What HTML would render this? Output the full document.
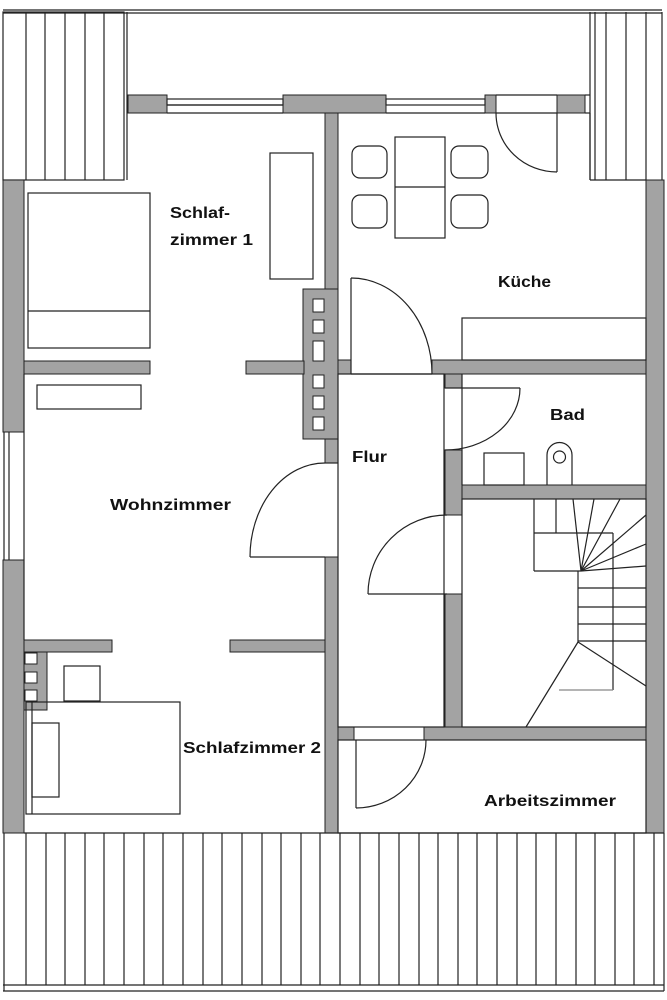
<!DOCTYPE html>
<html><head><meta charset="utf-8"><style>
html,body{margin:0;padding:0;background:#fff;}
svg{display:block;}
text{font-family:"Liberation Sans",sans-serif;font-weight:bold;font-size:16px;fill:#111;}
</style></head><body>
<svg width="667" height="1000" viewBox="0 0 667 1000" xmlns="http://www.w3.org/2000/svg">
<g fill="none" stroke="#222" stroke-width="1.2">
<!-- top outer line -->
<line x1="3" y1="10" x2="662" y2="10"/>
<line x1="3" y1="13" x2="662" y2="13"/>
<!-- left roof -->
<rect x="3" y="12" width="121" height="168"/>
<line x1="26" y1="12" x2="26" y2="180"/>
<line x1="45" y1="12" x2="45" y2="180"/>
<line x1="65" y1="12" x2="65" y2="180"/>
<line x1="85" y1="12" x2="85" y2="180"/>
<line x1="104" y1="12" x2="104" y2="180"/>
<line x1="127" y1="12" x2="127" y2="180"/>
<!-- right roof -->
<line x1="590" y1="12" x2="590" y2="180"/>
<line x1="595" y1="12" x2="595" y2="180"/>
<line x1="606" y1="12" x2="606" y2="180"/>
<line x1="626" y1="12" x2="626" y2="180"/>
<line x1="646" y1="12" x2="646" y2="180"/>
<line x1="590" y1="180" x2="646" y2="180"/>
<line x1="662" y1="12" x2="662" y2="180"/>
</g>
<!-- walls -->
<g fill="#a3a3a3" stroke="#222" stroke-width="1">
<rect x="128" y="95" width="39" height="18"/>
<rect x="283" y="95" width="103" height="18"/>
<rect x="485" y="95" width="11" height="18"/>
<rect x="557" y="95" width="28" height="18"/>
<rect x="3" y="180" width="21" height="252"/>
<rect x="3" y="560" width="21" height="273"/>
<rect x="646" y="180" width="18" height="653"/>
<!-- Schlaf1/Kueche vertical wall -->
<rect x="325" y="113" width="13" height="350"/>
<rect x="325" y="557" width="13" height="276"/>
<!-- chimney upper -->
<rect x="303" y="289" width="35" height="150"/>
<!-- Schlaf1/Wohn wall -->
<rect x="24" y="361" width="126" height="13"/>
<rect x="246" y="361" width="58" height="13"/>
<!-- Kueche bottom wall -->
<rect x="338" y="360" width="13" height="14"/>
<rect x="432" y="360" width="214" height="14"/>
<!-- Flur right wall -->
<rect x="445" y="374" width="17" height="14"/>
<rect x="445" y="450" width="17" height="65"/>
<rect x="445" y="594" width="17" height="146"/>
<!-- Bad/Stair wall -->
<rect x="462" y="485" width="184" height="14"/>
<!-- stair bottom / Arbeitszimmer top -->
<rect x="338" y="727" width="16" height="13"/>
<rect x="424" y="727" width="222" height="13"/>
<!-- Wohn/Schlaf2 wall -->
<rect x="24" y="640" width="88" height="12"/>
<rect x="230" y="640" width="95" height="12"/>
<!-- chimney lower -->
<rect x="24" y="652" width="23" height="58"/>
</g>
<g fill="#fff" stroke="#222" stroke-width="1">
<rect x="313" y="299" width="11" height="13"/>
<rect x="313" y="320" width="11" height="13"/>
<rect x="313" y="341" width="11" height="20"/>
<rect x="313" y="375" width="11" height="13"/>
<rect x="313" y="396" width="11" height="13"/>
<rect x="313" y="417" width="11" height="13"/>
<rect x="25" y="653" width="12" height="11"/>
<rect x="25" y="672" width="12" height="11"/>
<rect x="25" y="690" width="12" height="11"/>
</g>
<g fill="none" stroke="#222" stroke-width="1.2">
<!-- windows -->
<rect x="167" y="99" width="116" height="6"/>
<line x1="167" y1="105" x2="283" y2="105"/>
<line x1="167" y1="113" x2="283" y2="113"/>
<rect x="386" y="99" width="99" height="6"/>
<line x1="386" y1="113" x2="485" y2="113"/>
<line x1="496" y1="113" x2="557" y2="113"/>
<line x1="496" y1="95" x2="557" y2="95"/>
<line x1="585" y1="113" x2="590" y2="113"/>
<line x1="585" y1="95" x2="590" y2="95"/>
<line x1="590" y1="113" x2="590" y2="180"/>
<line x1="4" y1="432" x2="4" y2="560"/>
<line x1="9" y1="432" x2="9" y2="560"/>
<line x1="24" y1="374" x2="24" y2="640"/>
<!-- kitchen door top -->
<line x1="557" y1="113" x2="557" y2="172"/>
<path d="M496 113 A61 59 0 0 0 557 172"/>
<!-- kitchen furniture -->
<rect x="395" y="137" width="50" height="101"/>
<line x1="395" y1="187" x2="445" y2="187"/>
<rect x="352" y="146" width="35" height="32" rx="8"/>
<rect x="352" y="195" width="35" height="33" rx="8"/>
<rect x="451" y="146" width="37" height="32" rx="8"/>
<rect x="451" y="195" width="37" height="33" rx="8"/>
<rect x="462" y="318" width="184" height="42"/>
<!-- kitchen/flur door -->
<line x1="351" y1="278" x2="351" y2="374"/>
<path d="M351 278 A81 96 0 0 1 432 374"/>
<line x1="351" y1="374" x2="432" y2="374"/>
<!-- Schlaf1 furniture -->
<rect x="28" y="193" width="122" height="155"/>
<line x1="28" y1="311" x2="150" y2="311"/>
<rect x="270" y="153" width="43" height="126"/>
<rect x="37" y="385" width="104" height="24"/>
<!-- flur -->
<rect x="338" y="374" width="106" height="353"/>
<!-- Wohn door -->
<line x1="250" y1="557" x2="325" y2="557"/>
<path d="M250 557 A75 94 0 0 1 325 463"/>
<line x1="325" y1="463" x2="338" y2="463"/>
<!-- Bad door -->
<line x1="445" y1="388" x2="520" y2="388"/>
<path d="M520 388 A75 62 0 0 1 445 450"/>
<line x1="462" y1="374" x2="462" y2="485"/>
<!-- Bad furniture -->
<rect x="484" y="453" width="40" height="32"/>
<path d="M547 485 L547 455 A12.5 12.5 0 0 1 572 455 L572 485"/>
<circle cx="559.5" cy="457" r="6"/>
<!-- stair door -->
<line x1="368" y1="594" x2="447" y2="594"/>
<path d="M368 594 A79 79 0 0 1 447 515"/>
<!-- stairs -->
<rect x="462" y="499" width="184" height="228"/>
<line x1="534" y1="499" x2="534" y2="571"/>
<line x1="556" y1="499" x2="556" y2="533"/>
<line x1="534" y1="533" x2="613" y2="533"/>
<line x1="534" y1="571" x2="581" y2="571"/>
<line x1="613" y1="533" x2="613" y2="690"/>
<line x1="578" y1="571" x2="578" y2="642"/>
<line x1="581" y1="571" x2="573" y2="499"/>
<line x1="581" y1="571" x2="594" y2="499"/>
<line x1="581" y1="571" x2="620" y2="499"/>
<line x1="581" y1="571" x2="646" y2="515"/>
<line x1="581" y1="571" x2="646" y2="544"/>
<line x1="581" y1="571" x2="646" y2="566"/>
<line x1="578" y1="588" x2="646" y2="588"/>
<line x1="578" y1="607" x2="646" y2="607"/>
<line x1="578" y1="624" x2="646" y2="624"/>
<line x1="578" y1="641" x2="646" y2="641"/>
<line x1="578" y1="642" x2="526" y2="727"/>
<line x1="578" y1="642" x2="646" y2="686"/>
<line x1="559" y1="690" x2="613" y2="690" stroke="#888"/>
<!-- Arbeitszimmer door -->
<line x1="356" y1="740" x2="356" y2="808"/>
<path d="M356 808 A70 68 0 0 0 426 740"/>
<rect x="338" y="740" width="308" height="93"/>
<!-- Schlaf2 furniture -->
<rect x="64" y="666" width="36" height="35"/>
<rect x="26" y="702" width="154" height="112"/>
<line x1="32" y1="702" x2="32" y2="814"/>
<rect x="32" y="723" width="27" height="74"/>
<line x1="24" y1="833" x2="664" y2="833"/>
<!-- bottom roof -->
<line x1="3" y1="985" x2="664" y2="985"/>
<line x1="3" y1="991" x2="664" y2="991"/>
<line x1="4" y1="833" x2="4" y2="991"/>
</g>
<g stroke="#222" stroke-width="1.2">
<line x1="26" y1="833" x2="26" y2="985"/><line x1="46" y1="833" x2="46" y2="985"/><line x1="65" y1="833" x2="65" y2="985"/><line x1="85" y1="833" x2="85" y2="985"/><line x1="104" y1="833" x2="104" y2="985"/><line x1="124" y1="833" x2="124" y2="985"/><line x1="144" y1="833" x2="144" y2="985"/><line x1="163" y1="833" x2="163" y2="985"/><line x1="183" y1="833" x2="183" y2="985"/><line x1="203" y1="833" x2="203" y2="985"/><line x1="222" y1="833" x2="222" y2="985"/><line x1="242" y1="833" x2="242" y2="985"/><line x1="262" y1="833" x2="262" y2="985"/><line x1="281" y1="833" x2="281" y2="985"/><line x1="301" y1="833" x2="301" y2="985"/><line x1="320" y1="833" x2="320" y2="985"/><line x1="340" y1="833" x2="340" y2="985"/><line x1="360" y1="833" x2="360" y2="985"/><line x1="379" y1="833" x2="379" y2="985"/><line x1="399" y1="833" x2="399" y2="985"/><line x1="419" y1="833" x2="419" y2="985"/><line x1="438" y1="833" x2="438" y2="985"/><line x1="458" y1="833" x2="458" y2="985"/><line x1="477" y1="833" x2="477" y2="985"/><line x1="497" y1="833" x2="497" y2="985"/><line x1="517" y1="833" x2="517" y2="985"/><line x1="536" y1="833" x2="536" y2="985"/><line x1="556" y1="833" x2="556" y2="985"/><line x1="576" y1="833" x2="576" y2="985"/><line x1="595" y1="833" x2="595" y2="985"/><line x1="615" y1="833" x2="615" y2="985"/><line x1="634" y1="833" x2="634" y2="985"/><line x1="654" y1="833" x2="654" y2="985"/><line x1="664" y1="833" x2="664" y2="991"/>
</g>
<text x="170" y="218" textLength="60" lengthAdjust="spacingAndGlyphs">Schlaf-</text>
<text x="170" y="245" textLength="83" lengthAdjust="spacingAndGlyphs">zimmer 1</text>
<text x="498" y="287" textLength="53" lengthAdjust="spacingAndGlyphs">Küche</text>
<text x="550" y="420" textLength="35" lengthAdjust="spacingAndGlyphs">Bad</text>
<text x="352" y="462" textLength="35" lengthAdjust="spacingAndGlyphs">Flur</text>
<text x="110" y="510" textLength="121" lengthAdjust="spacingAndGlyphs">Wohnzimmer</text>
<text x="183" y="753" textLength="138" lengthAdjust="spacingAndGlyphs">Schlafzimmer 2</text>
<text x="484" y="806" textLength="132" lengthAdjust="spacingAndGlyphs">Arbeitszimmer</text>
</svg>
</body></html>
